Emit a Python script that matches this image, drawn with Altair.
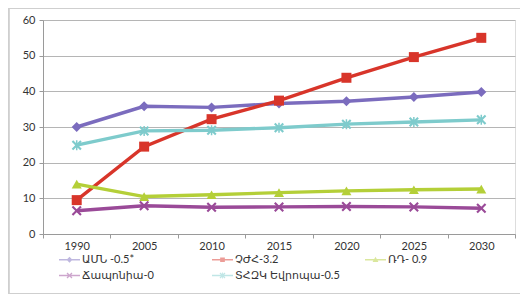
import altair as alt
import pandas as pd

years = ["1990", "2005", "2010", "2015", "2020", "2025", "2030"]
series_names = ["ԱՄՆ -0.5*", "ՉԺՀ-3.2", "ՌԴ- 0.9", "Ճապոնիա-0", "ՏՀԶԿ Եվրոպա-0.5"]
us = [30, 35.8, 35.5, 36.6, 37.2, 38.4, 39.8]
china = [9.5, 24.5, 32.2, 37.4, 43.8, 49.6, 55]
russia = [14, 10.5, 11, 11.6, 12.1, 12.4, 12.6]
japan = [6.5, 7.9, 7.5, 7.6, 7.7, 7.6, 7.2]
europe = [24.9, 28.9, 29.1, 29.8, 30.8, 31.4, 32]

colors = ["#7B6CBE", "#D8352A", "#B4CF38", "#9A4A98", "#7ECBCC"]

values = [us, china, russia, japan, europe]
rows = []
for name, vals in zip(series_names, values):
    for yr, v in zip(years, vals):
        rows.append({"year": yr, "value": v, "s": name})
df = pd.DataFrame(rows)

# marker paths (unit square)
X_PATH = "M-1,-0.7L-0.7,-1L0,-0.3L0.7,-1L1,-0.7L0.3,0L1,0.7L0.7,1L0,0.3L-0.7,1L-1,0.7L-0.3,0Z"
STAR_PATH = X_PATH + "M-0.15,-1L0.15,-1L0.15,1L-0.15,1Z"
marker_shapes = ["diamond", "square", "triangle-up", X_PATH, STAR_PATH]


def scaled(path, k):
    out = []
    num = ""
    for ch in path:
        if ch in "-0123456789.":
            num += ch
        else:
            if num:
                out.append(str(round(float(num) * k, 4)))
                num = ""
            out.append(ch)
    if num:
        out.append(str(round(float(num) * k, 4)))
    return "".join(out)


LINE = "M-1,-0.07L1,-0.07L1,0.07L-1,0.07Z"
DIAMOND = "M0,-1L1,0L0,1L-1,0Z"
SQUARE = "M-0.8,-0.8L0.8,-0.8L0.8,0.8L-0.8,0.8Z"
TRI = "M0,-1L1,0.8L-1,0.8Z"
legend_shapes = [LINE + scaled(p, 0.28) for p in [DIAMOND, SQUARE, TRI, X_PATH, STAR_PATH]]

x_enc = alt.X(
    "year:N",
    sort=years,
    scale=alt.Scale(type="band", paddingInner=0, paddingOuter=0),
    axis=alt.Axis(
        title=None, labelAngle=0, tickBand="extent", grid=False,
        domainColor="#9a9a9a", tickColor="#9a9a9a", tickSize=4,
        labelColor="#333333", labelFontSize=11, labelPadding=2,
    ),
)
y_enc = alt.Y(
    "value:Q",
    scale=alt.Scale(domain=[0, 60], nice=False),
    axis=alt.Axis(
        title=None, values=[0, 10, 20, 30, 40, 50, 60], grid=True,
        gridColor="#b5b5b5", domainColor="#9a9a9a", tickColor="#9a9a9a",
        tickSize=4, labelColor="#333333", labelFontSize=11, labelPadding=4,
    ),
)
color_scale = alt.Scale(domain=series_names, range=colors)

base = alt.Chart(df)

lines = base.mark_line(strokeWidth=3.4).encode(
    x=x_enc, y=y_enc,
    color=alt.Color("s:N", scale=color_scale, legend=None),
    detail="s:N",
)

points = base.mark_point(filled=True, size=100, opacity=1).encode(
    x=x_enc, y=y_enc,
    color=alt.Color("s:N", scale=color_scale, legend=None),
    shape=alt.Shape("s:N", scale=alt.Scale(domain=series_names, range=marker_shapes), legend=None),
)

legend_layer = base.transform_filter("false").mark_point(filled=True, size=441).encode(
    x=x_enc, y=y_enc,
    color=alt.Color(
        "s:N", scale=color_scale,
        legend=alt.Legend(
            title=None, orient="none", legendX=16, legendY=229, columns=3,
            direction="horizontal", gridAlign="all", columnPadding=25,
            rowPadding=-1, symbolSize=441, symbolOpacity=1, symbolStrokeWidth=0,
            labelFontSize=11, labelColor="#333333", labelOffset=2, labelLimit=200,
        ),
    ),
    shape=alt.Shape("s:N", scale=alt.Scale(domain=series_names, range=legend_shapes)),
)

# light outer frame of the chart (top, left, bottom edges)
frame_top = alt.Chart(df).mark_rule(color="#cfcfcf", strokeWidth=1.2).encode(
    x=alt.value(-34.5), x2=alt.value(477), y=alt.value(-11.5)
)
frame_left = alt.Chart(df).mark_rule(color="#cfcfcf", strokeWidth=1.2).encode(
    x=alt.value(-34.5), y=alt.value(-11.5), y2=alt.value(273.5)
)
frame_bottom = alt.Chart(df).mark_rule(color="#cfcfcf", strokeWidth=1.2).encode(
    x=alt.value(-34.5), x2=alt.value(477), y=alt.value(273.5)
)

chart = (
    alt.layer(frame_top, frame_left, frame_bottom, lines, points, legend_layer)
    .resolve_scale(color="independent", shape="independent")
    .properties(
        width=472, height=214,
        autosize=alt.AutoSizeParams(type="none"),
        padding={"left": 35, "top": 12, "right": 5, "bottom": 60},
        background="white",
    )
    .configure_view(stroke=None)
    .configure(font="Lato, DejaVu Sans")
)

chart.save("out.html", embed_options={"renderer": "svg", "actions": False})
